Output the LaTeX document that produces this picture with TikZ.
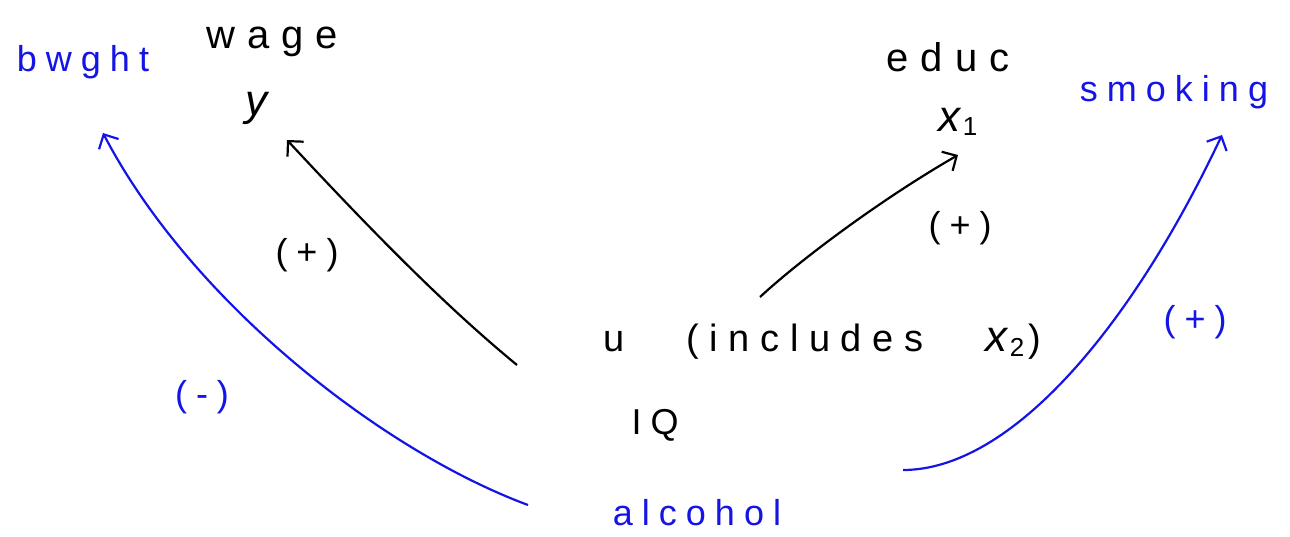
\documentclass[tikz,border=0pt]{standalone}
\usepackage{fontspec}
\setmainfont{Liberation Sans}
\usetikzlibrary{arrows.meta}
\definecolor{pen}{RGB}{20,20,230}
\newcommand{\xv}[1]{{\addfontfeatures{LetterSpace=0}\textit{\fontsize{44}{44}\selectfont x}\kern1pt\raisebox{-0.25ex}{\fontsize{26}{26}\selectfont #1}}}
\begin{document}
\begin{tikzpicture}[x=1pt,y=-1pt,
  lbl/.style={inner sep=0pt,font=\fontsize{36}{40}\selectfont\addfontfeatures{LetterSpace=25}},
  bl/.style={lbl,text=pen},
  arr/.style={line width=2.2pt,-{Straight Barb[length=11pt,width=22pt,line width=2.2pt]}},
  barr/.style={arr,draw=pen}]
\useasboundingbox (0,0) rectangle (1290,537);
\node[bl] (bwght) at (83,62) {bwght};
\node[lbl,font=\fontsize{40}{44}\selectfont\addfontfeatures{LetterSpace=30}] (wage) at (272,42) {wage};
\node[lbl] (y) at (263,108) {\textit{\fontsize{44}{44}\selectfont y}};
\node[lbl,font=\fontsize{40}{44}\selectfont\addfontfeatures{LetterSpace=30}] (educ) at (948,57) {educ};
\node[lbl] (x1) at (958,122) {\xv{1}};
\node[bl] (smoking) at (1174,92) {smoking};
\node[lbl] (p1) at (307,255) {(+)};
\node[lbl] (p2) at (960,228) {(+)};
\node[bl] (p3) at (1195,322) {(+)};
\node[bl] (m1) at (202,397) {(-)};
\node[lbl,font=\fontsize{38}{42}\selectfont\addfontfeatures{LetterSpace=28}] (u) at (822,342) {u\hspace{62pt}(includes\hspace{62pt}\xv{2}\hspace{4pt})};
\node[lbl] (iq) at (655,425) {IQ};
\node[bl] (alc) at (697,513) {alcohol};
\coordinate (a1) at (517,365);
\coordinate (e1) at (287,140);
\coordinate (a2) at (760,297);
\coordinate (e2) at (958,155);
\coordinate (a3) at (528,505);
\coordinate (e3) at (103,133);
\coordinate (a4) at (903,470);
\coordinate (e4) at (1222,135);
\draw[arr] (a1) .. controls (450,310) and (380,240) .. (e1);
\draw[arr] (a2) .. controls (800,260) and (880,200) .. (e2);
\draw[barr] (a3) .. controls (380,450) and (190,300) .. (e3);
\draw[barr] (a4) .. controls (1010,470) and (1130,330) .. (e4);
\end{tikzpicture}
\end{document}
